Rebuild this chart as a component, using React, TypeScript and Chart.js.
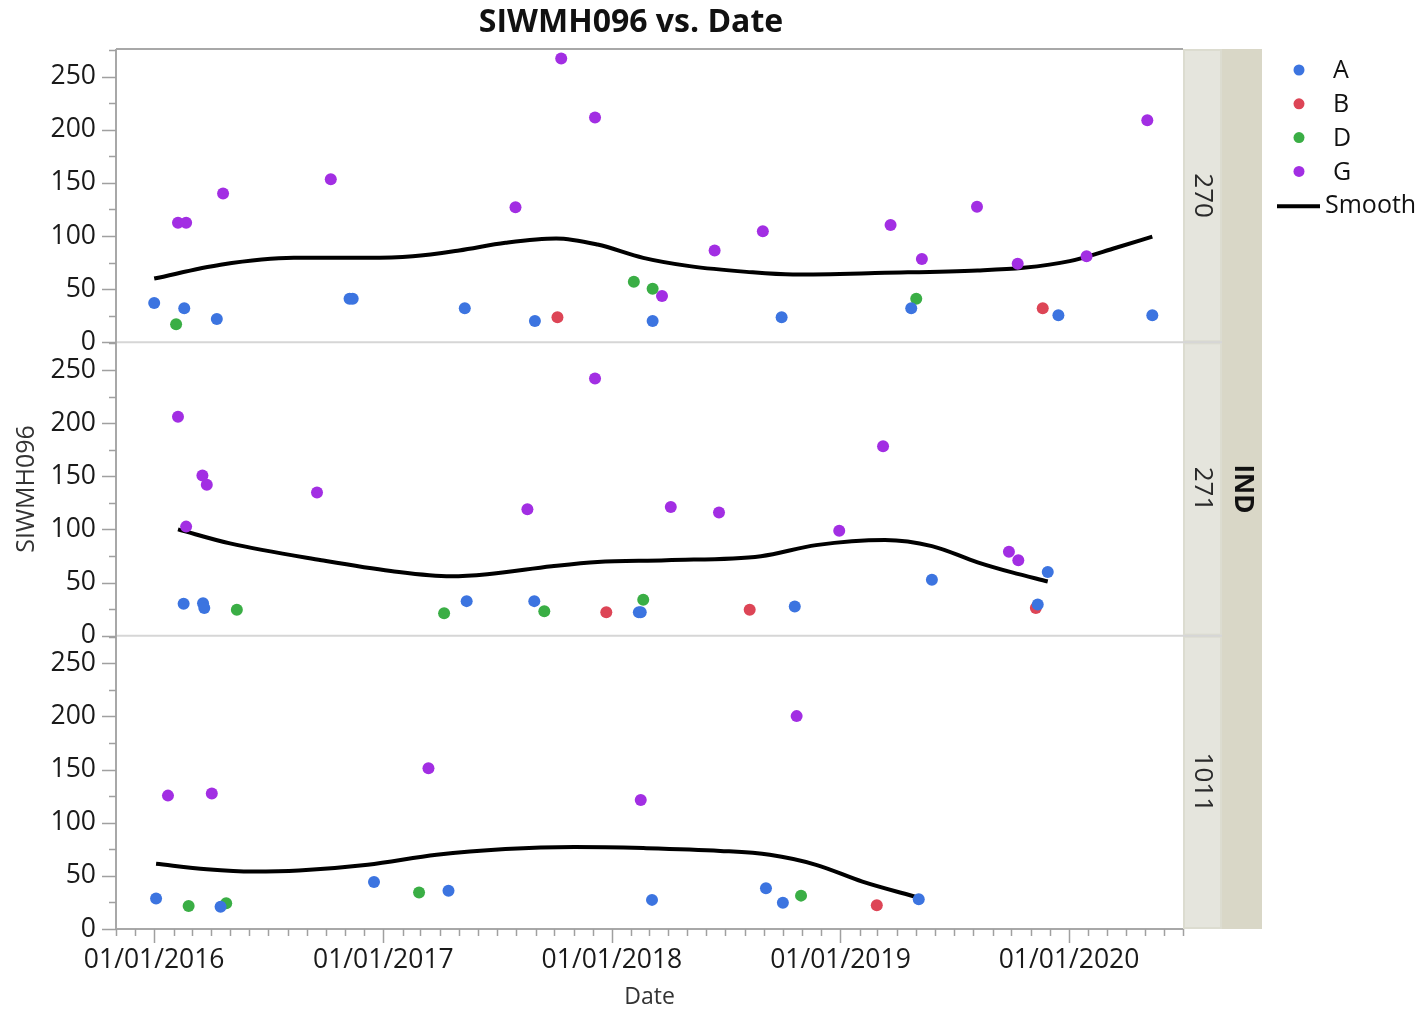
import React, { useEffect, useRef } from 'react';
import { Chart, registerables } from 'chart.js';

Chart.register(...registerables);

type Pt = [string, number];

const FONT = '"Open Sans", "Noto Sans", sans-serif';

// ---------- data ----------
const TITLE = 'SIWMH096 vs. Date';
const Y_TITLE = 'SIWMH096';
const X_TITLE = 'Date';
const FACET_TITLE = 'IND';
const GROUPS = ['A', 'B', 'D', 'G'];
const GROUP_COLORS = ['#3c74e0', '#dd4556', '#3aae45', '#a22ee3'];
const SMOOTH_LABEL = 'Smooth';
const X_MIN = '2015-11-01';
const X_MAX = '2020-07-01';
const Y_MIN = 0;
const Y_MAX = 276;
const Y_STEP = 25;
const Y_LABEL_STEP = 50;

// Panel 270
const P270_A: Pt[] = [['2016-01-01', 37], ['2016-02-18', 32], ['2016-04-10', 22], ['2016-11-08', 41], ['2016-11-13', 41], ['2017-05-11', 32], ['2017-08-31', 20], ['2018-03-07', 20], ['2018-09-29', 23.5], ['2019-04-24', 32], ['2019-12-15', 25.5], ['2020-05-13', 25.5]];
const P270_B: Pt[] = [['2017-10-06', 23.5], ['2019-11-20', 32]];
const P270_D: Pt[] = [['2016-02-05', 17], ['2018-02-05', 57], ['2018-03-07', 50.5], ['2019-05-02', 41]];
const P270_G: Pt[] = [['2016-02-08', 112.5], ['2016-02-21', 112.5], ['2016-04-20', 140], ['2016-10-09', 153.5], ['2017-07-31', 127], ['2017-10-12', 267], ['2017-12-05', 211.5], ['2018-03-22', 43.5], ['2018-06-14', 86.5], ['2018-08-30', 104.5], ['2019-03-22', 110.5], ['2019-05-11', 78.5], ['2019-08-07', 127.5], ['2019-10-11', 74], ['2020-01-29', 81], ['2020-05-05', 209]];
const P270_SMOOTH: Pt[] = [['2016-01-01', 60], ['2016-04-16', 73], ['2016-08-11', 79.5], ['2016-12-06', 79.5], ['2017-02-17', 81], ['2017-05-02', 86.5], ['2017-07-15', 93.7], ['2017-10-04', 97.8], ['2017-12-09', 92], ['2018-02-20', 79.5], ['2018-05-05', 71.7], ['2018-08-04', 66.3], ['2018-10-17', 63.8], ['2019-03-13', 65.4], ['2019-08-08', 67.6], ['2019-10-20', 70.1], ['2020-01-02', 76.4], ['2020-03-16', 89], ['2020-05-13', 99.5]];

// Panel 271
const P271_A: Pt[] = [['2016-02-17', 30], ['2016-03-19', 30.5], ['2016-03-21', 26], ['2017-05-14', 32.5], ['2017-08-30', 32.5], ['2018-02-13', 22], ['2018-02-16', 22], ['2018-10-20', 27.5], ['2019-05-27', 52.7], ['2019-11-12', 29.4], ['2019-11-28', 60]];
const P271_B: Pt[] = [['2017-12-23', 22], ['2018-08-09', 24.3], ['2019-11-09', 26]];
const P271_D: Pt[] = [['2016-05-12', 24.3], ['2017-04-08', 21], ['2017-09-15', 23], ['2018-02-20', 33.8]];
const P271_G: Pt[] = [['2016-02-08', 206], ['2016-02-21', 102.6], ['2016-03-18', 150.6], ['2016-03-25', 142], ['2016-09-17', 134.8], ['2017-08-19', 119], ['2017-12-05', 242], ['2018-04-05', 121], ['2018-06-21', 115.8], ['2018-12-30', 98.8], ['2019-03-10', 178.3], ['2019-09-27', 78.9], ['2019-10-12', 71]];
const P271_SMOOTH: Pt[] = [['2016-02-08', 100], ['2016-05-01', 86.8], ['2016-09-24', 71], ['2017-01-13', 60.9], ['2017-04-19', 55.9], ['2017-06-16', 57.8], ['2017-09-27', 65.3], ['2017-12-09', 69.4], ['2018-03-29', 71], ['2018-08-27', 74.8], ['2018-11-23', 85.2], ['2019-03-13', 90], ['2019-05-27', 84.3], ['2019-08-08', 69], ['2019-10-02', 59.5], ['2019-11-28', 51]];

// Panel 1011
const P1011_A: Pt[] = [['2016-01-04', 28.6], ['2016-04-16', 21], ['2016-12-17', 44.3], ['2017-04-15', 36.1], ['2018-03-06', 27.4], ['2018-09-04', 38.4], ['2018-10-01', 24.8], ['2019-05-06', 28]];
const P1011_B: Pt[] = [['2019-02-28', 22.3]];
const P1011_D: Pt[] = [['2016-02-25', 21.7], ['2016-04-25', 24.2], ['2017-02-27', 34.3], ['2018-10-30', 31.4]];
const P1011_G: Pt[] = [['2016-01-23', 125.5], ['2016-04-02', 127.4], ['2017-03-14', 151.2], ['2018-02-16', 121.4], ['2018-10-23', 200.3]];
const P1011_SMOOTH: Pt[] = [['2016-01-04', 61.3], ['2016-03-25', 56.3], ['2016-06-06', 54.1], ['2016-08-19', 55], ['2016-12-07', 60.4], ['2017-03-27', 69.8], ['2017-07-15', 75.2], ['2017-11-02', 77.1], ['2018-02-20', 76.1], ['2018-06-23', 73.5], ['2018-09-10', 69.8], ['2018-11-23', 60.4], ['2019-02-05', 44.6], ['2019-05-06', 29.5]];

const PANELS = [
  { axis: 'y270', label: '270', groups: [P270_A, P270_B, P270_D, P270_G], smooth: P270_SMOOTH },
  { axis: 'y271', label: '271', groups: [P271_A, P271_B, P271_D, P271_G], smooth: P271_SMOOTH },
  { axis: 'y1011', label: '1011', groups: [P1011_A, P1011_B, P1011_D, P1011_G], smooth: P1011_SMOOTH },
];

// ---------- helpers ----------
const toDay = (s: string) => {
  const [y, m, d] = s.split('-').map(Number);
  return Date.UTC(y, m - 1, d) / 86400000;
};
const dayDate = (v: number) => new Date(Math.round(v) * 86400000);
const isJan = (v: number) => {
  const d = dayDate(v);
  return d.getUTCMonth() === 0 && d.getUTCDate() === 1;
};
const monthTicks = () => {
  const out: number[] = [];
  const end = toDay(X_MAX);
  const start = dayDate(toDay(X_MIN));
  let y = start.getUTCFullYear();
  let m = start.getUTCMonth();
  for (;;) {
    const v = Date.UTC(y, m, 1) / 86400000;
    if (v > end) break;
    out.push(v);
    m++;
    if (m > 11) { m = 0; y++; }
  }
  return out;
};

// layout constants (pixels)
const W = 1423;
const H = 1012;
const PLOT_LEFT = 116;
const PLOT_TOP = 49;
const PLOT_RIGHT = 1183;
const PLOT_BOTTOM = 929;
const STRIP_INNER = 39;
const STRIP_OUTER = 40;

const facetPlugin = {
  id: 'facetDecor',
  afterDraw(chart: any) {
    const ctx = chart.ctx as CanvasRenderingContext2D;
    const area = chart.chartArea;
    const xs = chart.scales.x;
    ctx.save();

    // strips
    const sx1 = area.right;
    const sx2 = area.right + STRIP_INNER;
    const sx3 = sx2 + STRIP_OUTER;
    ctx.fillStyle = '#d9d7c7';
    ctx.fillRect(sx2, area.top, STRIP_OUTER, area.bottom - area.top);
    PANELS.forEach((p) => {
      const s = chart.scales[p.axis];
      ctx.fillStyle = '#dcdcd0';
      ctx.fillRect(sx1, s.top, STRIP_INNER, s.bottom - s.top);
      ctx.fillStyle = '#e5e5dd';
      ctx.fillRect(sx1 + 2, s.top + 2, STRIP_INNER - 4, s.bottom - s.top - 4);
      ctx.save();
      ctx.translate(sx1 + STRIP_INNER / 2, (s.top + s.bottom) / 2);
      ctx.rotate(Math.PI / 2);
      ctx.fillStyle = '#2a2a2a';
      ctx.font = `26px ${FONT}`;
      ctx.textAlign = 'center';
      ctx.textBaseline = 'middle';
      ctx.fillText(p.label, 0, 0);
      ctx.restore();
    });
    ctx.save();
    ctx.translate(sx2 + STRIP_OUTER / 2, (area.top + area.bottom) / 2);
    ctx.rotate(Math.PI / 2);
    ctx.fillStyle = '#111';
    ctx.font = `bold 26px ${FONT}`;
    ctx.textAlign = 'center';
    ctx.textBaseline = 'middle';
    ctx.fillText(FACET_TITLE, 0, 0);
    ctx.restore();

    // panel separators
    ctx.strokeStyle = '#d6d6d6';
    ctx.lineWidth = 2;
    PANELS.slice(0, -1).forEach((p) => {
      const s = chart.scales[p.axis];
      ctx.beginPath();
      ctx.moveTo(area.left, s.bottom);
      ctx.lineTo(sx2, s.bottom);
      ctx.stroke();
    });

    // frame
    ctx.strokeStyle = '#a8a8a8';
    ctx.lineWidth = 2;
    ctx.beginPath();
    ctx.moveTo(area.left, area.top);
    ctx.lineTo(area.right, area.top);
    ctx.moveTo(area.left, area.top);
    ctx.lineTo(area.left, area.bottom);
    ctx.lineTo(area.right, area.bottom);
    ctx.stroke();

    // x tick marks
    ctx.lineWidth = 1.5;
    ctx.strokeStyle = '#a0a0a0';
    ctx.beginPath();
    xs.ticks.forEach((t: any) => {
      const px = Math.round(xs.getPixelForValue(t.value)) + 0.5;
      const len = isJan(t.value) ? 14 : 7;
      ctx.moveTo(px, area.bottom);
      ctx.lineTo(px, area.bottom + len);
    });
    // y tick marks
    PANELS.forEach((p) => {
      const s = chart.scales[p.axis];
      s.ticks.forEach((t: any) => {
        if (t.value % Y_STEP !== 0) return;
        const py = Math.round(s.getPixelForValue(t.value)) + 0.5;
        const len = t.value % Y_LABEL_STEP === 0 ? 14 : 7;
        ctx.moveTo(area.left, py);
        ctx.lineTo(area.left - len, py);
      });
    });
    ctx.stroke();

    // title
    ctx.fillStyle = '#111';
    ctx.font = `bold 32px ${FONT}`;
    ctx.textAlign = 'center';
    ctx.textBaseline = 'middle';
    ctx.fillText(TITLE, (0 + sx3) / 2, 23);

    // legend
    const lx = 1299;
    const ly0 = 70;
    const lstep = 33.8;
    ctx.font = `25px ${FONT}`;
    ctx.textAlign = 'left';
    ctx.textBaseline = 'middle';
    GROUPS.forEach((g, i) => {
      const y = ly0 + i * lstep;
      ctx.fillStyle = GROUP_COLORS[i];
      ctx.beginPath();
      ctx.arc(lx, y, 5.5, 0, Math.PI * 2);
      ctx.fill();
      ctx.fillStyle = '#111';
      ctx.fillText(g, 1333, y + 1);
    });
    const sy = ly0 + 4 * lstep + 1;
    ctx.strokeStyle = '#000';
    ctx.lineWidth = 4;
    ctx.beginPath();
    ctx.moveTo(1277, sy);
    ctx.lineTo(1320, sy);
    ctx.stroke();
    ctx.fillStyle = '#111';
    ctx.fillText(SMOOTH_LABEL, 1325, sy);

    ctx.restore();
  },
};

const yScale = (withTitle: boolean) => ({
  type: 'linear',
  position: 'left',
  stack: 'facet',
  stackWeight: 1,
  min: Y_MIN,
  max: Y_MAX,
  grid: { display: false, drawTicks: false },
  border: { display: false },
  ticks: {
    stepSize: Y_STEP,
    includeBounds: false,
    autoSkip: false,
    padding: 20,
    color: '#1a1a1a',
    font: { family: FONT, size: 26.5 },
    callback: (v: number) => (v % Y_LABEL_STEP === 0 ? String(v) : ''),
  },
  title: {
    display: withTitle,
    text: Y_TITLE,
    color: '#333',
    font: { family: FONT, size: 25 },
    padding: { top: 12, bottom: 0 },
  },
  afterFit: (s: any) => { s.width = PLOT_LEFT; },
});

export default function App() {
  const ref = useRef<HTMLCanvasElement | null>(null);

  useEffect(() => {
    if (!ref.current) return;
    const datasets: any[] = [];
    PANELS.forEach((p) => {
      datasets.push({
        label: `${SMOOTH_LABEL} ${p.label}`,
        data: p.smooth.map(([d, v]) => ({ x: toDay(d), y: v })),
        yAxisID: p.axis,
        xAxisID: 'x',
        showLine: true,
        borderColor: '#000',
        borderWidth: 4,
        pointRadius: 0,
        cubicInterpolationMode: 'monotone',
        fill: false,
        order: 5,
      });
      p.groups.forEach((arr, gi) => {
        datasets.push({
          label: `${GROUPS[gi]} ${p.label}`,
          data: arr.map(([d, v]) => ({ x: toDay(d), y: v })),
          yAxisID: p.axis,
          xAxisID: 'x',
          showLine: false,
          pointRadius: 6,
          pointBorderWidth: 0,
          pointBackgroundColor: GROUP_COLORS[gi],
          borderColor: GROUP_COLORS[gi],
          order: 1,
        });
      });
    });

    const ticks = monthTicks();
    const chart = new Chart(ref.current, {
      type: 'scatter',
      data: { datasets },
      options: {
        animation: false,
        responsive: false,
        events: [],
        layout: { padding: { top: PLOT_TOP, right: W - PLOT_RIGHT, left: 0, bottom: 0 } },
        plugins: { legend: { display: false }, title: { display: false }, tooltip: { enabled: false } },
        scales: {
          x: {
            type: 'linear',
            position: 'bottom',
            min: toDay(X_MIN),
            max: toDay(X_MAX),
            grid: { display: false, drawTicks: false },
            border: { display: false },
            afterBuildTicks: (s: any) => { s.ticks = ticks.map((v) => ({ value: v })); },
            ticks: {
              autoSkip: false,
              maxRotation: 0,
              minRotation: 0,
              padding: 16,
              color: '#1a1a1a',
              font: { family: FONT, size: 26.5 },
              callback: (v: number) => {
                if (!isJan(v)) return '';
                return `01/01/${dayDate(v).getUTCFullYear()}`;
              },
            },
            title: {
              display: true,
              text: X_TITLE,
              color: '#333',
              font: { family: FONT, size: 23 },
              padding: { top: 0, bottom: 1 },
            },
            afterFit: (s: any) => { s.height = H - PLOT_BOTTOM; },
          },
          y1011: yScale(false),
          y271: yScale(true),
          y270: yScale(false),
        } as any,
      },
      plugins: [facetPlugin],
    } as any);
    return () => chart.destroy();
  }, []);

  return (
    <div style={{ position: 'absolute', left: 0, top: 0, width: W, height: H, background: '#fff' }}>
      <canvas ref={ref} width={W} height={H} style={{ display: 'block' }} />
    </div>
  );
}
